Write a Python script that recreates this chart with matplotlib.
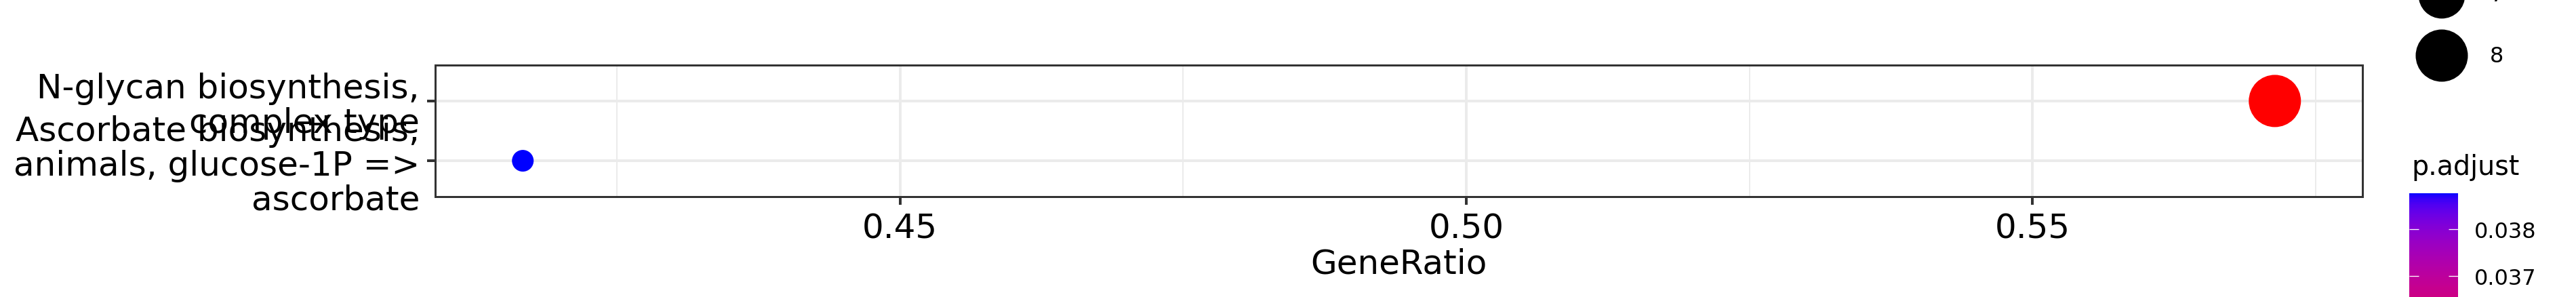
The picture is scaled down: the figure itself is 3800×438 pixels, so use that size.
import numpy as np
import matplotlib
matplotlib.use('Agg')
import matplotlib.pyplot as plt
from matplotlib.colors import ListedColormap, Normalize, to_rgb
from matplotlib.cm import ScalarMappable
from matplotlib.ticker import MultipleLocator, FormatStrFormatter

# data
pathways = ['Ascorbate biosynthesis,\nanimals, glucose-1P =>\nascorbate',
            'N-glycan biosynthesis,\ncomplex type']
gene_ratio = [0.4167, 0.5714]
counts = [5, 8]
p_adjust = [0.03877, 0.0345]
size_breaks = [5, 6, 7, 8]

W, H, DPI = 3800, 439, 100


def px(v):
    # pixels -> points
    return v * 72 / DPI


def frac(l, t, r, b):
    # pixel box (from top-left) -> figure fraction rect
    return [l / W, 1 - b / H, (r - l) / W, (b - t) / H]


def dot_size(c):
    # area palette like ggplot scale_size, diameters 32..77 px
    t = (np.asarray(c, float) - min(counts)) / (max(counts) - min(counts))
    d = 32 + (77 - 32) * np.sqrt(t)
    return px(d) ** 2


# red -> blue gradient interpolated in CIELAB (as ggplot does)
WHITE = np.array([0.95047, 1.0, 1.08883])
M = np.array([[0.4124, 0.3576, 0.1805],
              [0.2126, 0.7152, 0.0722],
              [0.0193, 0.1192, 0.9505]])


def rgb2lab(rgb):
    c = np.asarray(rgb, float)
    c = np.where(c <= 0.04045, c / 12.92, ((c + 0.055) / 1.055) ** 2.4)
    t = M @ c / WHITE
    f = np.where(t > (6 / 29) ** 3, np.cbrt(t), t / (3 * (6 / 29) ** 2) + 4 / 29)
    return np.array([116 * f[1] - 16, 500 * (f[0] - f[1]), 200 * (f[1] - f[2])])


def lab2rgb(lab):
    fy = (lab[0] + 16) / 116
    f = np.array([fy + lab[1] / 500, fy, fy - lab[2] / 200])
    t = np.where(f > 6 / 29, f ** 3, 3 * (6 / 29) ** 2 * (f - 4 / 29)) * WHITE
    c = np.linalg.solve(M, t)
    c = np.where(c <= 0.0031308, 12.92 * c, 1.055 * np.clip(c, 0, None) ** (1 / 2.4) - 0.055)
    return np.clip(c, 0, 1)


lo, hi = rgb2lab(to_rgb('#FF0000')), rgb2lab(to_rgb('#0000FF'))
cmap = ListedColormap([lab2rgb(lo + (hi - lo) * t) for t in np.linspace(0, 1, 256)])
norm = Normalize(min(p_adjust), max(p_adjust))

fig = plt.figure(figsize=(W / DPI, H / DPI), dpi=DPI)
ax = fig.add_axes(frac(642, 97, 3485, 291))

ypos = np.arange(len(pathways))
ax.scatter(gene_ratio, ypos, s=dot_size(counts), c=p_adjust, cmap=cmap, norm=norm,
           linewidths=0, zorder=3)
ax.set_yticks(ypos, pathways)
ax.set_ylim(-0.6, len(pathways) - 0.4)
ax.margins(x=0.05)
ax.xaxis.set_major_locator(MultipleLocator(0.05))
ax.xaxis.set_minor_locator(MultipleLocator(0.025))
ax.xaxis.set_major_formatter(FormatStrFormatter('%.2f'))
ax.set_axisbelow(True)
ax.grid(which='major', color='#EBEBEB', lw=px(4))
ax.grid(which='minor', axis='x', color='#EBEBEB', lw=px(2))
ax.tick_params(which='major', length=px(12), width=px(4), color='#333333',
               labelsize=36, labelcolor='black')
ax.tick_params(axis='x', pad=px(10))
ax.tick_params(axis='y', pad=px(11))
ax.tick_params(which='minor', length=0)
for lab in ax.get_yticklabels():
    lab.set_linespacing(1.08)
for sp in ax.spines.values():
    sp.set_color('#333333')
    sp.set_linewidth(px(3))
ax.set_xlabel('GeneRatio', fontsize=36, labelpad=px(4))

# colour bar (runs off the bottom of the figure, like the reference)
bar_px = (max(p_adjust) - min(p_adjust)) * 69000
cax = fig.add_axes(frac(3554, 286, 3626, 286 + bar_px))
cb = fig.colorbar(ScalarMappable(norm=norm, cmap=cmap), cax=cax)
cb.outline.set_visible(False)
cax.yaxis.set_major_locator(MultipleLocator(0.001))
cax.yaxis.set_major_formatter(FormatStrFormatter('%.3f'))
cax.tick_params(direction='in', length=px(14), width=px(1.3), color='white',
                left=True, right=True, labelsize=23, pad=px(24))
fig.text(3557 / W, 1 - 258 / H, 'p.adjust', fontsize=28.5, va='baseline')

# size legend (Count), top part cut off by the figure edge
lax = fig.add_axes(frac(3540, -228.5, 3800, 127.5))
lax.axis('off')
lax.set_xlim(0, 260)
lax.set_ylim(-0.5, len(size_breaks) - 0.5)
keys = np.arange(len(size_breaks))[::-1]
lax.scatter([62] * len(size_breaks), keys, s=dot_size(size_breaks), c='black',
            linewidths=0, clip_on=False)
for k, b in zip(keys, size_breaks):
    lax.text(133, k, str(b), fontsize=23, va='center', ha='left')

fig.savefig('out.png', dpi=DPI)
